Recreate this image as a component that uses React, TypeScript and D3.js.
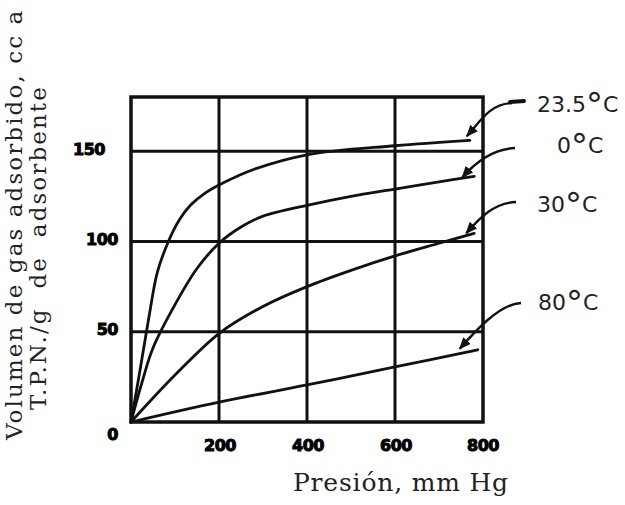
import React from "react";
import * as d3 from "d3";

const W = 625;
const H = 505;

// Series (pressure mm Hg -> volume cc STP / g)
const seriesNames = ["−23.5", "0", "30", "80"];
const p_m23 = [0, 20, 40, 60, 85, 110, 135, 170, 210, 280, 400, 600, 770];
const v_m23 = [0, 28, 57, 83, 100, 112, 120, 127, 132.5, 140, 148, 153, 156];
const p_0 = [0, 25, 50, 100, 150, 200, 250, 300, 400, 500, 600, 700, 780];
const v_0 = [0, 22, 41, 65, 85, 99, 108, 114, 120, 125, 129, 133, 136];
const p_30 = [0, 100, 200, 300, 400, 500, 600, 700, 780];
const v_30 = [0, 26, 49, 64, 75, 84, 92, 99, 104.5];
const p_80 = [0, 200, 400, 600, 788];
const v_80 = [0, 11, 20.5, 30.5, 40];

const xTicks = [200, 400, 600, 800];
const yTicks = [0, 50, 100, 150];
const xGrid = [200, 400, 600];
const yGrid = [50, 100, 150];

const xTitle = "Presión, mm Hg";
const yTitle1 = "Volumen de gas adsorbido, cc a";
const yTitle2 = "T.P.N./g\u00a0\u00a0de\u00a0\u00a0adsorbente";

const x = d3.scaleLinear().domain([0, 800]).range([131, 483]);
const y = d3.scaleLinear().domain([0, 180]).range([422, 97]);

const seriesData = [
  { name: seriesNames[0], p: p_m23, v: v_m23 },
  { name: seriesNames[1], p: p_0, v: v_0 },
  { name: seriesNames[2], p: p_30, v: v_30 },
  { name: seriesNames[3], p: p_80, v: v_80 },
];

// label layout (pixel anchors for annotation text, and leader offsets)
const labelLayout = [
  { tx: 537, ty: 112, sx: 512, sy: 103, tipDx: -3, tipDy: -4 },
  { tx: 557, ty: 153, sx: 515, sy: 148, tipDx: -12, tipDy: 1 },
  { tx: 537, ty: 212, sx: 516, sy: 202, tipDx: -8, tipDy: 0 },
  { tx: 538, ty: 310, sx: 521, sy: 303, tipDx: -18, tipDy: -1 },
];

const line = d3
  .line<[number, number]>()
  .x((d) => x(d[0]))
  .y((d) => y(d[1]))
  .curve(d3.curveCatmullRom.alpha(0.5));

export default function App() {
  const tickFont = "'DejaVu Sans', sans-serif";
  const serif = "'DejaVu Serif', serif";
  return (
    <svg
      width={W}
      height={H}
      viewBox={`0 0 ${W} ${H}`}
      style={{ position: "absolute", left: 0, top: 0, background: "#fff" }}
    >
      <defs>
        <marker
          id="ah"
          viewBox="0 0 12 10"
          refX="11"
          refY="5"
          markerWidth="12"
          markerHeight="10"
          markerUnits="userSpaceOnUse"
          orient="auto"
        >
          <path d="M0,0 L12,5 L0,10 Z" fill="#111" />
        </marker>
      </defs>
      <rect width={W} height={H} fill="#fff" />

      {/* grid */}
      {xGrid.map((g) => (
        <line key={"gx" + g} x1={x(g)} x2={x(g)} y1={y(180)} y2={y(0)} stroke="#111" strokeWidth={3} />
      ))}
      {yGrid.map((g) => (
        <line key={"gy" + g} x1={x(0)} x2={x(800)} y1={y(g)} y2={y(g)} stroke="#111" strokeWidth={3} />
      ))}
      <rect
        x={x(0)}
        y={y(180)}
        width={x(800) - x(0)}
        height={y(0) - y(180)}
        fill="none"
        stroke="#111"
        strokeWidth={3.5}
      />

      {/* curves */}
      {seriesData.map((s) => (
        <path
          key={s.name}
          d={line(s.p.map((p, i) => [p, s.v[i]] as [number, number])) || ""}
          fill="none"
          stroke="#111"
          strokeWidth={2.8}
          strokeLinecap="round"
        />
      ))}

      {/* annotations */}
      {seriesData.map((s, i) => {
        const L = labelLayout[i];
        const ex = x(s.p[s.p.length - 1]) + L.tipDx;
        const ey = y(s.v[s.v.length - 1]) + L.tipDy;
        const d = `M${L.sx},${L.sy} C${L.sx - 22},${L.sy + 1} ${ex + 14},${ey - 16} ${ex},${ey}`;
        return (
          <g key={"a" + i}>
            <path d={d} fill="none" stroke="#111" strokeWidth={2.4} markerEnd="url(#ah)" />
            {i === 0 && (
              <line x1={L.sx - 2} x2={L.sx + 12} y1={L.sy - 1} y2={L.sy - 2} stroke="#111" strokeWidth={4} strokeLinecap="round" />
            )}
            <text x={L.tx} y={L.ty} fontFamily={tickFont} fontSize={22} fill="#222">
              {i === 0 ? "23.5" : s.name}
              <tspan fontSize={34} dy={5}>°</tspan>
              <tspan fontSize={22} dy={-5}>C</tspan>
            </text>
          </g>
        );
      })}

      {/* tick labels */}
      {yTicks.map((t) => (
        <text
          key={"yt" + t}
          x={t === 150 ? 105 : 118}
          y={t === 0 ? y(0) + 12 : y(t) - 2}
          textAnchor="end"
          dominantBaseline="central"
          fontFamily={tickFont}
          fontWeight={900}
          fontSize={16}
          stroke="#000"
          strokeWidth={1}
          fill="#000"
          letterSpacing={-0.5}
        >
          {t}
        </text>
      ))}
      {xTicks.map((t) => (
        <text
          key={"xt" + t}
          x={x(t) + (t === 800 ? 0 : 1)}
          y={451}
          textAnchor="middle"
          fontFamily={tickFont}
          fontWeight={900}
          fontSize={16}
          stroke="#000"
          strokeWidth={1}
          fill="#000"
          letterSpacing={-0.5}
        >
          {t}
        </text>
      ))}

      {/* axis titles */}
      <text x={293} y={491} fontFamily={serif} fontSize={25} fill="#222" letterSpacing={0.8}>
        {xTitle}
      </text>
      <text transform="translate(22,440) rotate(-90)" fontFamily={serif} fontSize={23} fill="#222" letterSpacing={2.1}>
        {yTitle1}
      </text>
      <text transform="translate(46,410) rotate(-90)" fontFamily={serif} fontSize={23} fill="#222" letterSpacing={2.1}>
        {yTitle2}
      </text>
    </svg>
  );
}
